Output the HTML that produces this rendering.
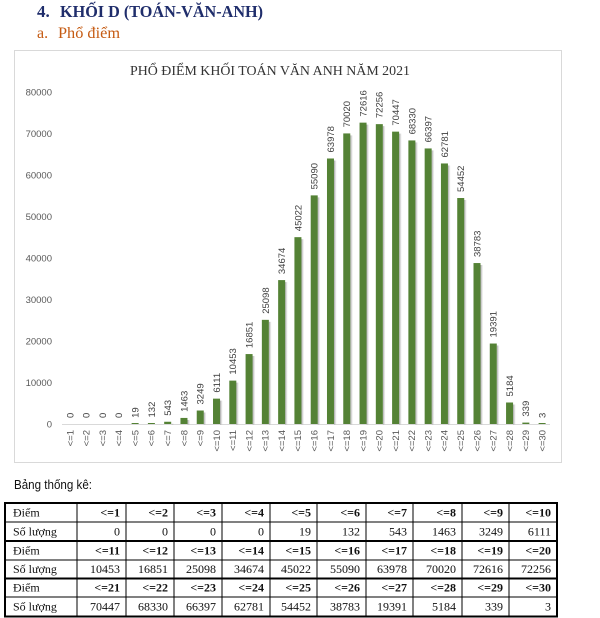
<!DOCTYPE html>
<html><head><meta charset="utf-8">
<style>
html,body{margin:0;padding:0;background:#fff;}
svg{display:block;}
.dl{font-family:"Liberation Sans",sans-serif;font-size:9.5px;fill:#404040;}
.xl{font-family:"Liberation Sans",sans-serif;font-size:9.5px;fill:#595959;}
.yl{font-family:"Liberation Sans",sans-serif;font-size:9.5px;fill:#595959;text-anchor:end;}
.tb{font-family:"Liberation Serif",serif;font-size:12px;fill:#111;}
.tbb{font-family:"Liberation Serif",serif;font-size:12px;fill:#111;font-weight:bold;text-anchor:end;}
.tbn{font-family:"Liberation Serif",serif;font-size:12px;fill:#111;text-anchor:end;}
</style></head>
<body>
<svg width="600" height="618" viewBox="0 0 600 618" xmlns="http://www.w3.org/2000/svg">
<defs>
<linearGradient id="sh" x1="0" x2="1" y1="0" y2="0">
<stop offset="0" stop-color="#8c8c8c" stop-opacity="0.8"/>
<stop offset="1" stop-color="#bfbfbf" stop-opacity="0.1"/>
</linearGradient>
</defs>
<rect width="600" height="618" fill="#fff"/>
<!-- headings -->
<text x="37" y="17" font-family="Liberation Serif, serif" font-weight="bold" font-size="17" fill="#1f2d6b">4.</text>
<text x="60" y="17" font-family="Liberation Serif, serif" font-weight="bold" font-size="17" fill="#1f2d6b" textLength="203" lengthAdjust="spacingAndGlyphs">KHỐI D (TOÁN-VĂN-ANH)</text>
<text x="37" y="38" font-family="Liberation Serif, serif" font-size="16" fill="#c55a11">a.</text>
<text x="58" y="38" font-family="Liberation Serif, serif" font-size="16" fill="#c55a11" textLength="62" lengthAdjust="spacingAndGlyphs">Phổ điểm</text>

<!-- chart frame -->
<rect x="14.5" y="50.5" width="547" height="412" fill="#fff" stroke="#d9d9d9" stroke-width="1"/>
<text x="130" y="75" font-family="Liberation Serif, serif" font-size="14" fill="#333" textLength="280" lengthAdjust="spacingAndGlyphs">PHỔ ĐIỂM KHỐI TOÁN VĂN ANH NĂM 2021</text>

<!-- y labels -->
<text class="yl" x="52" y="95.5">80000</text>
<text class="yl" x="52" y="137">70000</text>
<text class="yl" x="52" y="178.5">60000</text>
<text class="yl" x="52" y="220">50000</text>
<text class="yl" x="52" y="261.5">40000</text>
<text class="yl" x="52" y="303">30000</text>
<text class="yl" x="52" y="344.5">20000</text>
<text class="yl" x="52" y="386">10000</text>
<text class="yl" x="52" y="427.5">0</text>

<!-- axis -->
<line x1="62" y1="424.5" x2="550" y2="424.5" stroke="#d9d9d9" stroke-width="1"/>

<!-- shadows -->
<g fill="url(#sh)">
<rect x="171.7" y="423.8" width="2.5" height="0.7"/>
<rect x="187.5" y="420" width="2.5" height="4.5"/>
<rect x="203.7" y="412.5" width="2.5" height="12"/>
<rect x="220" y="400.6" width="2.5" height="24"/>
<rect x="236.3" y="382.6" width="2.5" height="42"/>
<rect x="252.6" y="356" width="2.5" height="68.5"/>
<rect x="268.9" y="321.8" width="2.5" height="102.7"/>
<rect x="285.1" y="282.1" width="2.5" height="142.4"/>
<rect x="301.4" y="239.2" width="2.5" height="185.3"/>
<rect x="317.7" y="197.4" width="2.5" height="227.1"/>
<rect x="334" y="160.5" width="2.5" height="264"/>
<rect x="350.3" y="135.4" width="2.5" height="289.1"/>
<rect x="366.5" y="124.6" width="2.5" height="299.9"/>
<rect x="382.8" y="126.1" width="2.5" height="298.4"/>
<rect x="399.1" y="133.6" width="2.5" height="290.9"/>
<rect x="415.4" y="142.4" width="2.5" height="282.1"/>
<rect x="431.7" y="150.4" width="2.5" height="274.1"/>
<rect x="447.9" y="165.5" width="2.5" height="259"/>
<rect x="464.2" y="200" width="2.5" height="224.5"/>
<rect x="480.5" y="265" width="2.5" height="159.5"/>
<rect x="496.8" y="345.5" width="2.5" height="79"/>
<rect x="513.1" y="404.5" width="2.5" height="20"/>
</g>

<!-- bars -->
<g fill="#548235">
<rect x="131.62" y="423" width="7" height="1"/>
<rect x="147.9" y="423" width="7" height="1"/>
<rect x="164.18" y="421.75" width="7" height="2.25"/>
<rect x="180.46" y="417.93" width="7" height="6.07"/>
<rect x="196.74" y="410.52" width="7" height="13.48"/>
<rect x="213.02" y="398.64" width="7" height="25.36"/>
<rect x="229.3" y="380.62" width="7" height="43.38"/>
<rect x="245.58" y="354.07" width="7" height="69.93"/>
<rect x="261.86" y="319.84" width="7" height="104.16"/>
<rect x="278.14" y="280.1" width="7" height="143.9"/>
<rect x="294.42" y="237.16" width="7" height="186.84"/>
<rect x="310.7" y="195.38" width="7" height="228.62"/>
<rect x="326.98" y="158.49" width="7" height="265.51"/>
<rect x="343.26" y="133.42" width="7" height="290.58"/>
<rect x="359.54" y="122.64" width="7" height="301.36"/>
<rect x="375.82" y="124.14" width="7" height="299.86"/>
<rect x="392.1" y="131.64" width="7" height="292.36"/>
<rect x="408.38" y="140.43" width="7" height="283.57"/>
<rect x="424.66" y="148.45" width="7" height="275.55"/>
<rect x="440.94" y="163.46" width="7" height="260.54"/>
<rect x="457.22" y="198.02" width="7" height="225.98"/>
<rect x="473.5" y="263.05" width="7" height="160.95"/>
<rect x="489.78" y="343.53" width="7" height="80.47"/>
<rect x="506.06" y="402.49" width="7" height="21.51"/>
<rect x="522.34" y="422.59" width="7" height="1.41"/>
<rect x="538.62" y="423" width="7" height="1"/>
</g>

<!-- data labels -->
<g class="dl">
<text transform="translate(73.4,418) rotate(-90)">0</text>
<text transform="translate(89.68,418) rotate(-90)">0</text>
<text transform="translate(105.96,418) rotate(-90)">0</text>
<text transform="translate(122.24,418) rotate(-90)">0</text>
<text transform="translate(138.52,417.9) rotate(-90)">19</text>
<text transform="translate(154.8,417.5) rotate(-90)">132</text>
<text transform="translate(171.08,415.8) rotate(-90)">543</text>
<text transform="translate(187.36,411.9) rotate(-90)">1463</text>
<text transform="translate(203.64,404.5) rotate(-90)">3249</text>
<text transform="translate(219.92,392.6) rotate(-90)">6111</text>
<text transform="translate(236.2,374.6) rotate(-90)">10453</text>
<text transform="translate(252.48,348.1) rotate(-90)">16851</text>
<text transform="translate(268.76,313.8) rotate(-90)">25098</text>
<text transform="translate(285.04,274.1) rotate(-90)">34674</text>
<text transform="translate(301.32,231.2) rotate(-90)">45022</text>
<text transform="translate(317.6,189.4) rotate(-90)">55090</text>
<text transform="translate(333.88,152.5) rotate(-90)">63978</text>
<text transform="translate(350.16,127.4) rotate(-90)">70020</text>
<text transform="translate(366.44,116.6) rotate(-90)">72616</text>
<text transform="translate(382.72,118.1) rotate(-90)">72256</text>
<text transform="translate(399,125.6) rotate(-90)">70447</text>
<text transform="translate(415.28,134.4) rotate(-90)">68330</text>
<text transform="translate(431.56,142.4) rotate(-90)">66397</text>
<text transform="translate(447.84,157.5) rotate(-90)">62781</text>
<text transform="translate(464.12,192) rotate(-90)">54452</text>
<text transform="translate(480.4,257) rotate(-90)">38783</text>
<text transform="translate(496.68,337.5) rotate(-90)">19391</text>
<text transform="translate(512.96,396.5) rotate(-90)">5184</text>
<text transform="translate(529.24,416.6) rotate(-90)">339</text>
<text transform="translate(545.52,418) rotate(-90)">3</text>
</g>

<!-- x labels -->
<g class="xl" text-anchor="end">
<text transform="translate(73.3,430) rotate(-90)">&lt;=1</text>
<text transform="translate(89.58,430) rotate(-90)">&lt;=2</text>
<text transform="translate(105.86,430) rotate(-90)">&lt;=3</text>
<text transform="translate(122.14,430) rotate(-90)">&lt;=4</text>
<text transform="translate(138.42,430) rotate(-90)">&lt;=5</text>
<text transform="translate(154.7,430) rotate(-90)">&lt;=6</text>
<text transform="translate(170.98,430) rotate(-90)">&lt;=7</text>
<text transform="translate(187.26,430) rotate(-90)">&lt;=8</text>
<text transform="translate(203.54,430) rotate(-90)">&lt;=9</text>
<text transform="translate(219.82,430) rotate(-90)">&lt;=10</text>
<text transform="translate(236.1,430) rotate(-90)">&lt;=11</text>
<text transform="translate(252.38,430) rotate(-90)">&lt;=12</text>
<text transform="translate(268.66,430) rotate(-90)">&lt;=13</text>
<text transform="translate(284.94,430) rotate(-90)">&lt;=14</text>
<text transform="translate(301.22,430) rotate(-90)">&lt;=15</text>
<text transform="translate(317.5,430) rotate(-90)">&lt;=16</text>
<text transform="translate(333.78,430) rotate(-90)">&lt;=17</text>
<text transform="translate(350.06,430) rotate(-90)">&lt;=18</text>
<text transform="translate(366.34,430) rotate(-90)">&lt;=19</text>
<text transform="translate(382.62,430) rotate(-90)">&lt;=20</text>
<text transform="translate(398.9,430) rotate(-90)">&lt;=21</text>
<text transform="translate(415.18,430) rotate(-90)">&lt;=22</text>
<text transform="translate(431.46,430) rotate(-90)">&lt;=23</text>
<text transform="translate(447.74,430) rotate(-90)">&lt;=24</text>
<text transform="translate(464.02,430) rotate(-90)">&lt;=25</text>
<text transform="translate(480.3,430) rotate(-90)">&lt;=26</text>
<text transform="translate(496.58,430) rotate(-90)">&lt;=27</text>
<text transform="translate(512.86,430) rotate(-90)">&lt;=28</text>
<text transform="translate(529.14,430) rotate(-90)">&lt;=29</text>
<text transform="translate(545.42,430) rotate(-90)">&lt;=30</text>
</g>

<!-- Bảng thống kê -->
<text x="14" y="489" font-family="Liberation Sans, sans-serif" font-size="12.5" fill="#111" textLength="78" lengthAdjust="spacingAndGlyphs">Bảng thống kê:</text>

<!-- table grid -->
<g stroke="#000" fill="none">
<line x1="5" y1="522" x2="557" y2="522" stroke-width="1"/>
<line x1="5" y1="541" x2="557" y2="541" stroke-width="2"/>
<line x1="5" y1="560" x2="557" y2="560" stroke-width="1"/>
<line x1="5" y1="578.5" x2="557" y2="578.5" stroke-width="2"/>
<line x1="5" y1="597" x2="557" y2="597" stroke-width="1"/>
<line x1="77" y1="503" x2="77" y2="617" stroke-width="1"/>
<line x1="126" y1="503" x2="126" y2="617" stroke-width="1"/>
<line x1="174" y1="503" x2="174" y2="617" stroke-width="1"/>
<line x1="222" y1="503" x2="222" y2="617" stroke-width="1"/>
<line x1="270" y1="503" x2="270" y2="617" stroke-width="1"/>
<line x1="317" y1="503" x2="317" y2="617" stroke-width="1"/>
<line x1="366" y1="503" x2="366" y2="617" stroke-width="1"/>
<line x1="413" y1="503" x2="413" y2="617" stroke-width="1"/>
<line x1="462" y1="503" x2="462" y2="617" stroke-width="1"/>
<line x1="509" y1="503" x2="509" y2="617" stroke-width="1"/>
<rect x="5" y="503" width="552" height="113.5" stroke-width="2"/>
</g>

<!-- table text -->
<text class="tb" x="13" y="516.5">Điểm</text>
<text class="tb" x="13" y="535.5">Số lượng</text>
<text class="tb" x="13" y="554.5">Điểm</text>
<text class="tb" x="13" y="573">Số lượng</text>
<text class="tb" x="13" y="591.5">Điểm</text>
<text class="tb" x="13" y="610.5">Số lượng</text>

<g class="tbb">
<text x="120" y="516.5">&lt;=1</text><text x="168" y="516.5">&lt;=2</text><text x="216" y="516.5">&lt;=3</text><text x="264" y="516.5">&lt;=4</text><text x="311" y="516.5">&lt;=5</text><text x="360" y="516.5">&lt;=6</text><text x="407" y="516.5">&lt;=7</text><text x="456" y="516.5">&lt;=8</text><text x="503" y="516.5">&lt;=9</text><text x="551" y="516.5">&lt;=10</text>
<text x="120" y="554.5">&lt;=11</text><text x="168" y="554.5">&lt;=12</text><text x="216" y="554.5">&lt;=13</text><text x="264" y="554.5">&lt;=14</text><text x="311" y="554.5">&lt;=15</text><text x="360" y="554.5">&lt;=16</text><text x="407" y="554.5">&lt;=17</text><text x="456" y="554.5">&lt;=18</text><text x="503" y="554.5">&lt;=19</text><text x="551" y="554.5">&lt;=20</text>
<text x="120" y="591.5">&lt;=21</text><text x="168" y="591.5">&lt;=22</text><text x="216" y="591.5">&lt;=23</text><text x="264" y="591.5">&lt;=24</text><text x="311" y="591.5">&lt;=25</text><text x="360" y="591.5">&lt;=26</text><text x="407" y="591.5">&lt;=27</text><text x="456" y="591.5">&lt;=28</text><text x="503" y="591.5">&lt;=29</text><text x="551" y="591.5">&lt;=30</text>
</g>
<g class="tbn">
<text x="120" y="535.5">0</text><text x="168" y="535.5">0</text><text x="216" y="535.5">0</text><text x="264" y="535.5">0</text><text x="311" y="535.5">19</text><text x="360" y="535.5">132</text><text x="407" y="535.5">543</text><text x="456" y="535.5">1463</text><text x="503" y="535.5">3249</text><text x="551" y="535.5">6111</text>
<text x="120" y="573">10453</text><text x="168" y="573">16851</text><text x="216" y="573">25098</text><text x="264" y="573">34674</text><text x="311" y="573">45022</text><text x="360" y="573">55090</text><text x="407" y="573">63978</text><text x="456" y="573">70020</text><text x="503" y="573">72616</text><text x="551" y="573">72256</text>
<text x="120" y="610.5">70447</text><text x="168" y="610.5">68330</text><text x="216" y="610.5">66397</text><text x="264" y="610.5">62781</text><text x="311" y="610.5">54452</text><text x="360" y="610.5">38783</text><text x="407" y="610.5">19391</text><text x="456" y="610.5">5184</text><text x="503" y="610.5">339</text><text x="551" y="610.5">3</text>
</g>
</svg>
</body></html>
